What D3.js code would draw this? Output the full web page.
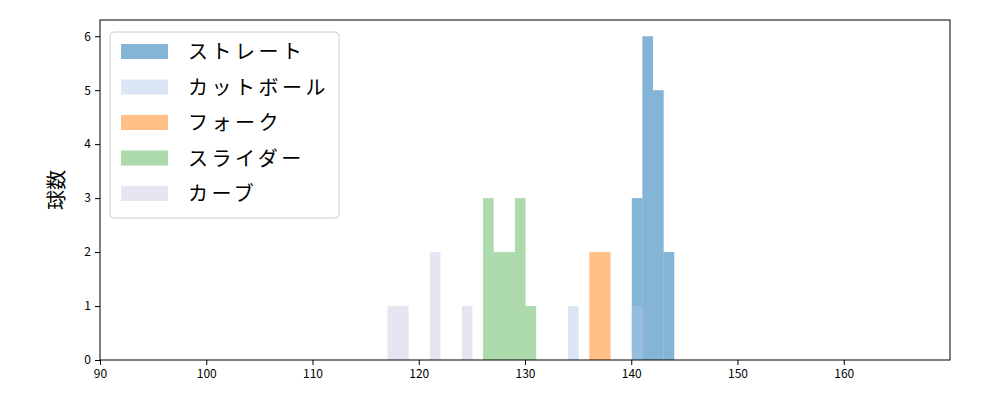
<!DOCTYPE html>
<html><head><meta charset="utf-8">
<script src="https://cdn.jsdelivr.net/npm/d3@7"></script>
<style>body{margin:0;background:#fff}text{font-family:"Noto Sans CJK JP","DejaVu Sans",sans-serif}</style>
</head><body><svg id="chart"></svg>
<script>
// bins: [start, count], width 1
const seriesNames = ['ストレート', 'カットボール', 'フォーク', 'スライダー', 'カーブ'];
const seriesColors = ['#1f77b4', '#aec7e8', '#ff7f0e', '#2ca02c', '#c8c8e2'];
const seriesAlpha = [0.55, 0.45, 0.5, 0.39, 0.45];
const straightBins = [[140.05, 3], [141.05, 6], [142.05, 5], [143.05, 2]];
const cutBins = [[134.05, 1], [140.05, 1]];
const forkBins = [[136.05, 2], [137.05, 2]];
const sliderBins = [[126.05, 3], [127.05, 2], [128.05, 2], [129.05, 3], [130.05, 1]];
const curveBins = [[117.05, 1], [118.05, 1], [121.05, 2], [124.05, 1]];
const allBins = [straightBins, cutBins, forkBins, sliderBins, curveBins];
const xTicks = [90, 100, 110, 120, 130, 140, 150, 160];
const yTicks = [0, 1, 2, 3, 4, 5, 6];

const width = 1000, height = 400;
const svg = d3.select('#chart').attr('width', width).attr('height', height);
const x = d3.scaleLinear().domain([90, 170]).range([100, 950]);
const y = d3.scaleLinear().domain([0, 6.3]).range([360, 20]);

allBins.forEach((bins, i) => {
  svg.append('g').selectAll('rect').data(bins).enter().append('rect')
    .attr('x', d => x(d[0]))
    .attr('width', d => x(d[0] + 1) - x(d[0]))
    .attr('y', d => y(d[1]))
    .attr('height', d => y(0) - y(d[1]))
    .attr('fill', seriesColors[i])
    .attr('fill-opacity', seriesAlpha[i]);
});

svg.append('g').attr('transform', 'translate(0,360)')
  .call(d3.axisBottom(x).tickValues(xTicks).tickFormat(d3.format('d')).tickSize(5).tickPadding(4))
  .call(g => g.selectAll('text').attr('font-size', 12).attr('fill', '#000'));
svg.append('g').attr('transform', 'translate(100,0)')
  .call(d3.axisLeft(y).tickValues(yTicks).tickFormat(d3.format('d')).tickSize(5).tickPadding(4))
  .call(g => g.selectAll('text').attr('font-size', 12).attr('fill', '#000'));
svg.selectAll('.domain').remove();
svg.append('rect').attr('x', 100).attr('y', 20).attr('width', 850).attr('height', 340)
  .attr('fill', 'none').attr('stroke', '#000').attr('stroke-width', 1);

svg.append('text').attr('transform', 'translate(64,190) rotate(-90)')
  .attr('text-anchor', 'middle').attr('font-size', 20).text('球数');

const legend = svg.append('g');
legend.append('rect').attr('x', 110).attr('y', 32).attr('width', 229).attr('height', 186)
  .attr('rx', 4).attr('fill', '#fff').attr('fill-opacity', 0.8).attr('stroke', '#ccc');
seriesNames.forEach((name, i) => {
  const ly = 51 + i * 35.5;
  legend.append('rect').attr('x', 121).attr('y', ly - 7).attr('width', 47).attr('height', 15)
    .attr('fill', seriesColors[i]).attr('fill-opacity', seriesAlpha[i]);
  legend.append('text').attr('x', 188).attr('y', ly + 8).attr('font-size', 20)
    .attr('letter-spacing', 3.5).text(name);
});
</script></body></html>
